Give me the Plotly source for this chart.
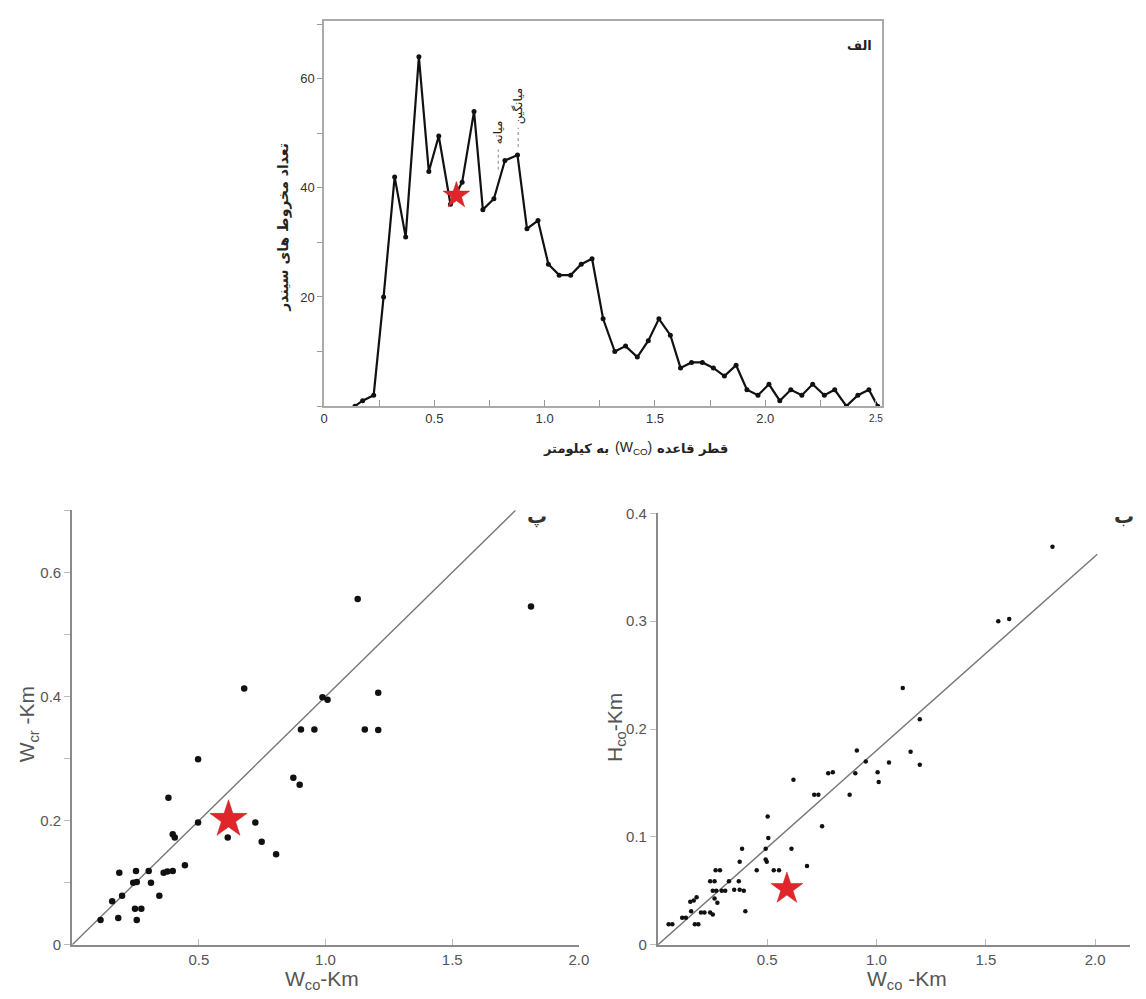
import plotly.graph_objects as go

# Cinder cone base-diameter frequency (top panel)
freq_wco = [0.14, 0.175, 0.225, 0.27, 0.32, 0.37, 0.43, 0.475, 0.52, 0.573,
            0.626, 0.68, 0.72, 0.77, 0.82, 0.877, 0.92, 0.97, 1.017, 1.066,
            1.118, 1.166, 1.215, 1.265, 1.318, 1.367, 1.42, 1.47, 1.518, 1.57,
            1.616, 1.666, 1.715, 1.765, 1.815, 1.868, 1.917, 1.967, 2.017, 2.066,
            2.116, 2.166, 2.215, 2.268, 2.315, 2.368, 2.42, 2.47, 2.51]
freq_count = [0, 1, 2, 20, 42, 31, 64, 43, 49.5, 37,
              41, 54, 36, 38, 45, 46, 32.5, 34, 26, 24,
              24, 26, 27, 16, 10, 11, 9, 12, 16, 13,
              7, 8, 8, 7, 5.5, 7.5, 3, 2, 4, 1,
              3, 2, 4, 2, 3, 0, 2, 3, 0]
star_top = (0.60, 38.6)
median_wco = 0.79
mean_wco = 0.88

# Crater width vs base width (bottom-left panel)
wco_a = [0.112, 0.158, 0.182, 0.186, 0.197, 0.241, 0.252, 0.255, 0.248, 0.273,
         0.255, 0.302, 0.311, 0.344, 0.361, 0.376, 0.397, 0.380, 0.397, 0.405,
         0.445, 0.497, 0.497, 0.614, 0.723, 0.748, 0.805, 0.679, 0.873, 0.898,
         0.903, 0.956, 0.988, 1.008, 1.127, 1.155, 1.208, 1.208, 1.811]
wcr_a = [0.040, 0.070, 0.043, 0.116, 0.079, 0.100, 0.119, 0.101, 0.058, 0.058,
         0.040, 0.119, 0.100, 0.079, 0.116, 0.118, 0.119, 0.237, 0.178, 0.173,
         0.128, 0.299, 0.197, 0.173, 0.197, 0.166, 0.146, 0.413, 0.269, 0.258,
         0.347, 0.347, 0.399, 0.395, 0.557, 0.347, 0.406, 0.346, 0.545]
star_a = (0.617, 0.202)
ratio_a_x = [0, 1.75]
ratio_a_y = [0, 0.70]

# Cone height vs base width (bottom-right panel)
wco_b = [0.049, 0.066, 0.111, 0.128, 0.152, 0.148, 0.164, 0.177, 0.169, 0.185,
         0.197, 0.213, 0.239, 0.251, 0.239, 0.259, 0.251, 0.267, 0.259, 0.272,
         0.264, 0.284, 0.292, 0.308, 0.325, 0.349, 0.374, 0.393, 0.370, 0.374,
         0.385, 0.400, 0.452, 0.493, 0.498, 0.493, 0.505, 0.502, 0.530, 0.554,
         0.611, 0.620, 0.682, 0.715, 0.734, 0.751, 0.779, 0.800, 0.877, 0.903,
         0.910, 0.951, 1.005, 1.010, 1.057, 1.120, 1.156, 1.198, 1.198, 1.557,
         1.607, 1.805]
hco_b = [0.019, 0.019, 0.025, 0.025, 0.031, 0.040, 0.041, 0.044, 0.019, 0.019,
         0.030, 0.030, 0.030, 0.028, 0.059, 0.059, 0.050, 0.050, 0.043, 0.039,
         0.069, 0.069, 0.050, 0.050, 0.059, 0.051, 0.051, 0.050, 0.059, 0.077,
         0.089, 0.031, 0.069, 0.079, 0.077, 0.089, 0.099, 0.119, 0.069, 0.069,
         0.089, 0.153, 0.073, 0.139, 0.139, 0.110, 0.159, 0.160, 0.139, 0.159,
         0.180, 0.170, 0.160, 0.151, 0.169, 0.238, 0.179, 0.209, 0.167, 0.300,
         0.302, 0.369]
star_b = (0.590, 0.052)
ratio_b_x = [0, 2.01]
ratio_b_y = [0, 0.362]

W, H = 1146, 999
FA = "DejaVu Sans"
FL = "Liberation Sans, Arial, sans-serif"
GRAY = "#8a8a8a"
STAR = "#e0262b"


def px_x(p):
    return min(1.0, max(0.0, p / W))


def px_y(p):
    return min(1.0, max(0.0, 1 - p / H))


fig = go.Figure()

# top panel
fig.add_trace(go.Scatter(x=freq_wco, y=freq_count, mode="lines+markers",
                         line=dict(color="#111", width=2.2),
                         marker=dict(color="#111", size=5),
                         xaxis="x", yaxis="y", showlegend=False))
fig.add_trace(go.Scatter(x=[star_top[0]], y=[star_top[1]], mode="markers",
                         marker=dict(symbol="star", size=20, color=STAR,
                                     line=dict(color="#c01818", width=0.5)),
                         xaxis="x", yaxis="y", showlegend=False))

# bottom-left panel
fig.add_trace(go.Scatter(x=ratio_a_x, y=ratio_a_y, mode="lines",
                         line=dict(color="#777", width=1.4),
                         xaxis="x2", yaxis="y2", showlegend=False))
fig.add_trace(go.Scatter(x=wco_a, y=wcr_a, mode="markers",
                         marker=dict(color="#111", size=6.5),
                         xaxis="x2", yaxis="y2", showlegend=False))
fig.add_trace(go.Scatter(x=[star_a[0]], y=[star_a[1]], mode="markers",
                         marker=dict(symbol="star", size=28, color=STAR,
                                     line=dict(color="#c01818", width=0.5)),
                         xaxis="x2", yaxis="y2", showlegend=False))

# bottom-right panel
fig.add_trace(go.Scatter(x=ratio_b_x, y=ratio_b_y, mode="lines",
                         line=dict(color="#777", width=1.4),
                         xaxis="x3", yaxis="y3", showlegend=False))
fig.add_trace(go.Scatter(x=wco_b, y=hco_b, mode="markers",
                         marker=dict(color="#111", size=4.5),
                         xaxis="x3", yaxis="y3", showlegend=False))
fig.add_trace(go.Scatter(x=[star_b[0]], y=[star_b[1]], mode="markers",
                         marker=dict(symbol="star", size=24, color=STAR,
                                     line=dict(color="#c01818", width=0.5)),
                         xaxis="x3", yaxis="y3", showlegend=False))

tick_font_top = dict(family=FL, size=13, color="#333")
tick_font_bot = dict(family=FL, size=15, color="#555")

top_x_vals = [i * 0.25 for i in range(11)]
top_x_text = ["0", "", "0.5", "", "1.0", "", "1.5", "", "2.0", "", ""]
top_y_vals = [0, 10, 20, 30, 40, 50, 60, 70]
top_y_text = ["", "", "20", "", "40", "", "60", ""]

fig.update_layout(
    width=W, height=H,
    margin=dict(l=0, r=0, t=0, b=0),
    paper_bgcolor="white", plot_bgcolor="white",
    xaxis=dict(domain=[px_x(324), px_x(889)], range=[0, 2.53],
               anchor="y", showgrid=False, zeroline=False,
               showline=True, linecolor="#aaa", linewidth=1.5, mirror=True,
               ticks="inside", ticklen=6, tickcolor="#999",
               tickvals=top_x_vals, ticktext=top_x_text,
               tickfont=tick_font_top),
    yaxis=dict(domain=[px_y(404), px_y(12)], range=[0, 70.6],
               anchor="x", showgrid=False, zeroline=False,
               showline=True, linecolor="#aaa", linewidth=1.5, mirror=True,
               ticks="outside", ticklen=5, tickcolor="#999",
               tickvals=top_y_vals, ticktext=top_y_text,
               tickfont=tick_font_top),
    xaxis2=dict(domain=[px_x(69), px_x(582)], range=[0, 2.0],
                anchor="y2", showgrid=False, zeroline=False,
                showline=True, linecolor=GRAY, linewidth=2,
                ticks="inside", ticklen=6, tickcolor="#bbb",
                tickvals=[0.5, 1.0, 1.5, 2.0],
                ticktext=["0.5", "1.0", "1.5", "2.0"],
                tickfont=tick_font_bot),
    yaxis2=dict(domain=[px_y(952), px_y(510)], range=[0, 0.70],
                anchor="x2", showgrid=False, zeroline=False,
                showline=True, linecolor=GRAY, linewidth=2,
                ticks="outside", ticklen=6, tickcolor="#bbb",
                tickvals=[0, 0.1, 0.2, 0.3, 0.4, 0.5, 0.6, 0.7],
                ticktext=["0", "", "0.2", "", "0.4", "", "0.6", ""],
                tickfont=tick_font_bot),
    xaxis3=dict(domain=[px_x(662), px_x(1140)], range=[0, 2.16],
                anchor="y3", showgrid=False, zeroline=False,
                showline=True, linecolor=GRAY, linewidth=2,
                ticks="inside", ticklen=6, tickcolor="#bbb",
                tickvals=[0.5, 1.0, 1.5, 2.0],
                ticktext=["0.5", "1.0", "1.5", "2.0"],
                tickfont=tick_font_bot),
    yaxis3=dict(domain=[px_y(952), px_y(513)], range=[0, 0.40],
                anchor="x3", showgrid=False, zeroline=False,
                showline=True, linecolor=GRAY, linewidth=2,
                ticks="outside", ticklen=6, tickcolor="#bbb",
                tickvals=[0, 0.1, 0.2, 0.3, 0.4],
                ticktext=["0", "0.1", "0.2", "0.3", "0.4"],
                tickfont=tick_font_bot),
)

# median / mean markers on the histogram
fig.add_shape(type="line", xref="x", yref="y", x0=median_wco, x1=median_wco,
              y0=43.3, y1=47.0, line=dict(color="#999", width=1.2, dash="dot"))
fig.add_shape(type="line", xref="x", yref="y", x0=mean_wco, x1=mean_wco,
              y0=47.5, y1=51.0, line=dict(color="#999", width=1.2, dash="dot"))

fa_title = dict(family=FA, size=13, color="#222")
annos = [
    dict(text="میانه", x=median_wco, y=47.6, xref="x", yref="y",
         yanchor="bottom", textangle=-90,
         font=dict(family=FA, size=12, color="#222")),
    dict(text="میانگین", x=mean_wco, y=51.3, xref="x", yref="y",
         yanchor="bottom", textangle=-90,
         font=dict(family=FA, size=12, color="#222")),
    dict(text="<b>الف</b>", x=px_x(866), y=px_y(37), xref="paper", yref="paper",
         font=dict(family=FA, size=13, color="#222")),
    dict(text="<b>تعداد مخروط های سیندر</b>", x=px_x(283), y=px_y(222),
         xref="paper", yref="paper", textangle=-90,
         font=dict(family=FA, size=14, color="#222")),
    # x title of the histogram, laid out right-to-left in three pieces
    dict(text="<b>قطر قاعده</b>", x=px_x(659), y=px_y(447), xanchor="left",
         xref="paper", yref="paper", font=fa_title),
    dict(text="(W<sub>CO</sub>)", x=px_x(637), y=px_y(447),
         xref="paper", yref="paper",
         font=dict(family=FL, size=14, color="#222")),
    dict(text="<b>به کیلومتر</b>", x=px_x(615), y=px_y(447), xanchor="right",
         xref="paper", yref="paper", font=fa_title),
    dict(text="W<sub>co</sub>-Km", x=px_x(322), y=px_y(988),
         xref="paper", yref="paper",
         font=dict(family=FL, size=21, color="#555")),
    dict(text="W<sub>cr</sub> -Km", x=px_x(24), y=px_y(728),
         xref="paper", yref="paper", textangle=-90,
         font=dict(family=FL, size=21, color="#555")),
    dict(text="W<sub>co</sub> -Km", x=px_x(914), y=px_y(988),
         xref="paper", yref="paper",
         font=dict(family=FL, size=21, color="#555")),
    dict(text="H<sub>co</sub>-Km", x=px_x(619), y=px_y(731),
         xref="paper", yref="paper", textangle=-90,
         font=dict(family=FL, size=21, color="#555")),
    dict(text="<b>پ</b>", x=px_x(540), y=px_y(516),
         xref="paper", yref="paper",
         font=dict(family=FA, size=20, color="#333")),
    dict(text="<b>ب</b>", x=1.0, y=px_y(516), xanchor="right",
         xref="paper", yref="paper",
         font=dict(family=FA, size=20, color="#333")),
]
for a in annos:
    a.setdefault("showarrow", False)
    a.setdefault("xanchor", "center")
    a.setdefault("yanchor", "middle")
    fig.add_annotation(**a)

# standalone "2.5" label, set smaller than the other ticks
fig.add_annotation(text="2.5", x=2.5, y=0, xref="x", yref="y", yanchor="top",
                   xanchor="center", yshift=-5, showarrow=False,
                   font=dict(family=FL, size=10, color="#333"))

fig.write_html("out.html")
